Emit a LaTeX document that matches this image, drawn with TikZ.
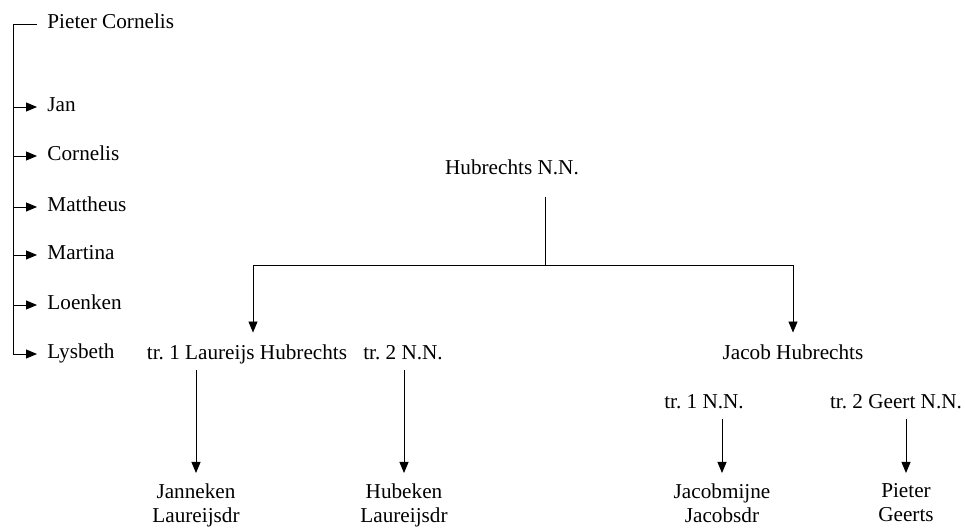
\documentclass[tikz,border=0pt]{standalone}
\usepackage{fontspec}
\setmainfont{Liberation Serif}
\usepackage{tikz}
\usetikzlibrary{arrows.meta,positioning}
\frenchspacing

\begin{document}
\begin{tikzpicture}[x=1pt,y=1pt,
      line width=0.9pt,
      person/.style={
         inner sep=0pt,
         text height=15pt,
         text depth=5pt,
         font=\fontsize{21.2}{24}\selectfont},
      child/.style={
         person,
         anchor=west,
         inner xsep=10pt},
      issue/.style={
         inner sep=0pt,
         anchor=north,
         align=center,
         font=\fontsize{21.2}{24}\selectfont},
      myarrow/.style={-{Triangle[length=11pt,width=9pt]}}
      ]
      \useasboundingbox (0,0) rectangle (965,529);

      % left column
      \node[child] (pieter) at (37,505) {Pieter Cornelis};
      \node[child] (jan) at (37,422) {Jan};
      \node[child] (cornelis) at (37,373) {Cornelis};
      \node[child] (mattheus) at (37,322) {Mattheus};
      \node[child] (martina) at (37,274) {Martina};
      \node[child] (loenken) at (37,224) {Loenken};
      \node[child] (lysbeth) at (37,175) {Lysbeth};
      \coordinate (spine) at (13,0);

      % tree
      \node[person] (hub) at (512,359) {Hubrechts N.N.};
      \node[person] (laureijs) at (247,174) {tr. 1 Laureijs Hubrechts};
      \node[person] (trtwo) at (403,174) {tr. 2 N.N.};
      \node[person] (jacob) at (793,174) {Jacob Hubrechts};
      \node[person] (trone) at (704,125) {tr. 1 N.N.};
      \node[person] (geert) at (896,125) {tr. 2 Geert N.N.};
      \node[issue] (janneken) at (196,46) {Janneken\\Laureijsdr};
      \node[issue] (hubeken) at (404,46) {Hubeken\\Laureijsdr};
      \node[issue] (jacobmijne) at (722,46) {Jacobmijne\\Jacobsdr};
      \node[issue] (pietergeerts) at (906,46) {Pieter\\Geerts};
      \coordinate (hubjoin) at (545,264);

      \draw (pieter.west) -| (spine |- lysbeth.west);
      \foreach \k in {jan,cornelis,mattheus,martina,loenken,lysbeth}
        \draw[myarrow] (spine |- \k.west) -- (\k.west);

      \draw[shorten <=17pt] (hub.south -| hubjoin) -- (hubjoin);
      \draw[myarrow,shorten >=12pt] (hubjoin) -| ([xshift=6pt]laureijs.north);
      \draw[myarrow,shorten >=12pt] (hubjoin) -| (jacob.north);

    \foreach \i/\j in {% parent/child
      laureijs/janneken,
      trtwo/hubeken,
      trone/jacobmijne,
      geert/pietergeerts}
       \draw[myarrow,shorten <=5pt,shorten >=10pt] (\i.south -| \j.north) -- (\j.north);
    \end{tikzpicture}
\end{document}
